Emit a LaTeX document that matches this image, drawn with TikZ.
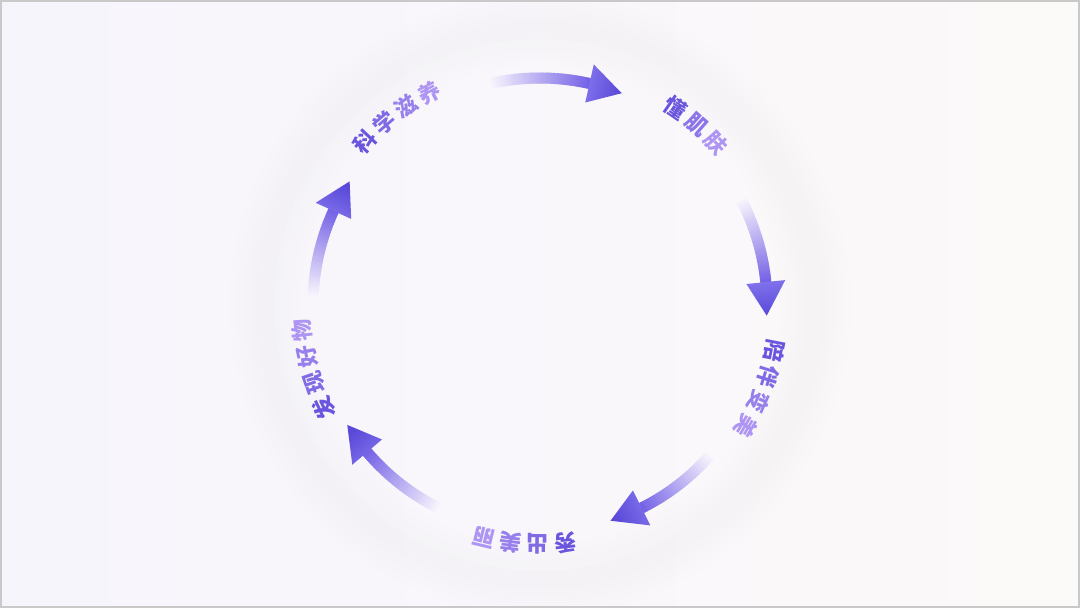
\documentclass[tikz,border=0pt]{standalone}
\usepackage{fontspec}
\newfontfamily\cjk{Noto Sans CJK SC}
\usetikzlibrary{calc}
\definecolor{bgL}{HTML}{F7F5FC}
\definecolor{bgR}{HTML}{FCF9F9}
\definecolor{ringc}{HTML}{E8E5F2}
\definecolor{txtA}{HTML}{6A56DE}
\definecolor{txtB}{HTML}{AE94F3}
\definecolor{arrT}{HTML}{F6F2FC}
\definecolor{arrH}{HTML}{7563E6}
\definecolor{headA}{HTML}{8174EC}
\definecolor{headB}{HTML}{5A48D8}
\definecolor{framec}{HTML}{C9C9C9}
\tikzset{
  lbl/.style={inner sep=0pt, font=\cjk\bfseries\fontsize{22}{22}\selectfont},
}
\newcommand\arclabel[4]{%
  \foreach \ch [count=\i from 0] in {#4} {
    \pgfmathsetmacro\a{#2-6.5*\i}
    \pgfmathsetmacro\r{\a-90}
    \pgfmathtruncatemacro\p{100-100*\i/(#3-1)}
    \path (C) ++(\a:239) node[lbl, rotate=\r, text=txtA!\p!txtB] (#1\i) {\ch};
  }%
}
\newcommand\cyclearrow[3]{%
  \coordinate (#1t) at ($(C)+(#2:227)$);
  \foreach \i in {0,...,39} {
    \pgfmathsetmacro\sa{#2+(#3-#2)*\i/40}
    \pgfmathsetmacro\ea{#2+(#3-#2)*(\i+1.5)/40}
    \pgfmathtruncatemacro\p{100*\i/39}
    \draw[line width=11pt, color=arrH!\p!arrT] (C) ++(\sa:227) arc[start angle=\sa, end angle=\ea, radius=227];
  }
  \pgfmathsetmacro\tipa{#3-8.5}
  \coordinate (#1h) at ($(C)+(\tipa:227)$);
  \coordinate (#1b1) at ($(C)+(#3:207.5)$);
  \coordinate (#1b2) at ($(C)+(#3:246.5)$);
  \shade[top color=headA, bottom color=headB, shading angle=#3] (#1b1) -- (#1b2) -- (#1h) -- cycle;
}
\begin{document}
\begin{tikzpicture}[x=1pt,y=1pt]
\useasboundingbox (0,0) rectangle (1080,608);
\shade[left color=bgL, right color=bgR] (0,0) rectangle (1080,608);
\coordinate (C) at (540,303);
% soft ring
\foreach \w/\o in {70/0.04,56/0.04,42/0.05,30/0.05,18/0.05}
  \draw[ringc, line width=\w pt, opacity=\o] (C) circle[radius=275];
% soft white disc
\foreach \rr in {266,260,254,248,242,236}
  \fill[white, opacity=0.09] (C) circle[radius=\rr];
% labels
\arclabel{kx}{137}{4}{科,学,滋,养}
\arclabel{dj}{55.5}{3}{懂,肌,肤}
\arclabel{pb}{-11}{4}{陪,伴,变,美}
\arclabel{xc}{-84}{4}{秀,出,美,丽}
\arclabel{fx}{205.5}{4}{发,现,好,物}
% arrows
\cyclearrow{a1}{102.4}{77.4}
\cyclearrow{a2}{27.3}{5.8}
\cyclearrow{a3}{-41.7}{-63.4}
\cyclearrow{a4}{243.2}{220.4}
\cyclearrow{a5}{177.6}{155.5}
% frame
\draw[framec, line width=2pt] (1,1) rectangle (1079,607);
\end{tikzpicture}
\end{document}
